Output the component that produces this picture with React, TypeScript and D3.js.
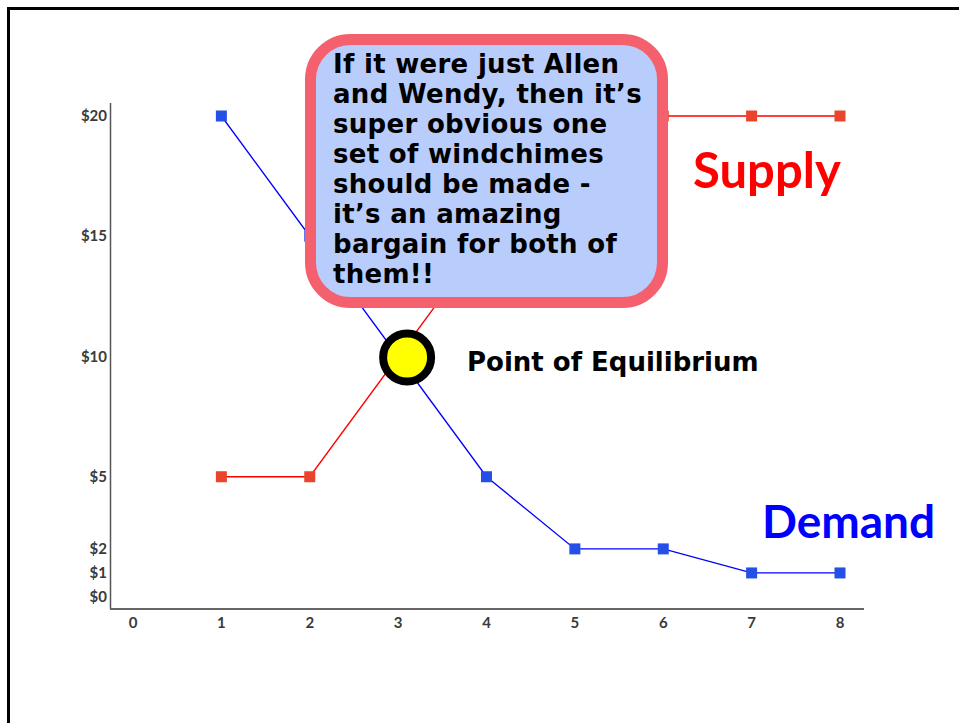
import React from "react";
import * as d3 from "d3";

const quantities = [1, 2, 3, 4, 5, 6, 7, 8];
const demand = [20, 15, 10, 5, 2, 2, 1, 1];
const supply = [5, 5, 10, 15, 20, 20, 20, 20];
const xTicks = [0, 1, 2, 3, 4, 5, 6, 7, 8];
const yTicks = [0, 1, 2, 5, 10, 15, 20];
const equilibrium = { q: 3, p: 10 };
const bubbleLines = [
  "If it were just Allen",
  "and Wendy, then it\u2019s",
  "super obvious one",
  "set of windchimes",
  "should be made -",
  "it\u2019s an amazing",
  "bargain for both of",
  "them!!",
];

const W = 959;
const H = 723;

export default function App() {
  const x = d3.scaleLinear().domain([0, 8]).range([133, 840]);
  const y = d3.scaleLinear().domain([0, 20]).range([597, 116]);
  const line = d3
    .line<[number, number]>()
    .x((d) => x(d[0]))
    .y((d) => y(d[1]));
  const demandPts = quantities.map((q, i) => [q, demand[i]] as [number, number]);
  const supplyPts = quantities.map((q, i) => [q, supply[i]] as [number, number]);
  const ms = 11;
  const ex = x(equilibrium.q) + 9;
  const ey = y(equilibrium.p) + 1;

  return (
    <svg
      width={W}
      height={H}
      style={{ position: "absolute", left: 0, top: 0, display: "block", background: "#fff" }}
    >
      <rect x={0} y={0} width={W} height={H} fill="#fff" />
      <path d={`M8.5,${H} V8.5 H${W}`} fill="none" stroke="#000" strokeWidth={3} />

      {/* axes */}
      <line x1={110.5} x2={110.5} y1={103} y2={609} stroke="#555" strokeWidth={1.5} />
      <line x1={110} x2={864} y1={609} y2={609} stroke="#666" strokeWidth={1.8} />
      {yTicks.map((t) => (
        <text
          key={"y" + t}
          x={107}
          y={y(t) + 5}
          textAnchor="end"
          fontFamily="Lato, 'Open Sans', sans-serif"
          fontWeight="bold"
          fontSize={15}
          fill="#3a3a3a"
        >
          {"$" + t}
        </text>
      ))}
      {xTicks.map((t) => (
        <text
          key={"x" + t}
          x={x(t)}
          y={628}
          textAnchor="middle"
          fontFamily="Lato, 'Open Sans', sans-serif"
          fontWeight="bold"
          fontSize={15}
          fill="#3a3a3a"
        >
          {t}
        </text>
      ))}

      {/* lines */}
      <path d={line(supplyPts) || ""} fill="none" stroke="#ff0000" strokeWidth={1.3} />
      <path d={line(demandPts) || ""} fill="none" stroke="#0000ff" strokeWidth={1.3} />
      {supplyPts.map((d, i) => (
        <rect
          key={"s" + i}
          x={x(d[0]) - ms / 2}
          y={y(d[1]) - ms / 2}
          width={ms}
          height={ms}
          fill="#e8452c"
        />
      ))}
      {demandPts.map((d, i) => (
        <rect
          key={"d" + i}
          x={x(d[0]) - ms / 2}
          y={y(d[1]) - ms / 2}
          width={ms}
          height={ms}
          fill="#2450e8"
        />
      ))}

      {/* equilibrium */}
      <circle cx={ex} cy={ey} r={24} fill="#ffff00" stroke="#000" strokeWidth={8} />
      <text
        x={467}
        y={371}
        fontFamily="'DejaVu Sans', sans-serif"
        fontWeight="bold"
        fontSize={26}
        fill="#000"
      >
        Point of Equilibrium
      </text>

      {/* labels */}
      <text x={693} y={188} fontFamily="Lato, sans-serif" fontWeight="bold" fontSize={49} fill="#ff0000">
        Supply
      </text>
      <text x={762} y={538} fontFamily="Lato, sans-serif" fontWeight="bold" fontSize={46} fill="#0000ff">
        Demand
      </text>

      {/* bubble */}
      <rect
        x={310.5}
        y={39.5}
        width={352}
        height={263}
        rx={40}
        ry={40}
        fill="#b9cdfd"
        stroke="#f4606e"
        strokeWidth={11}
      />
      {bubbleLines.map((l, i) => (
        <text
          key={"b" + i}
          x={333}
          y={73 + i * 30}
          fontFamily="'DejaVu Sans', sans-serif"
          fontWeight="bold"
          fontSize={26}
          letterSpacing={0.3}
          fill="#000"
        >
          {l}
        </text>
      ))}
    </svg>
  );
}
